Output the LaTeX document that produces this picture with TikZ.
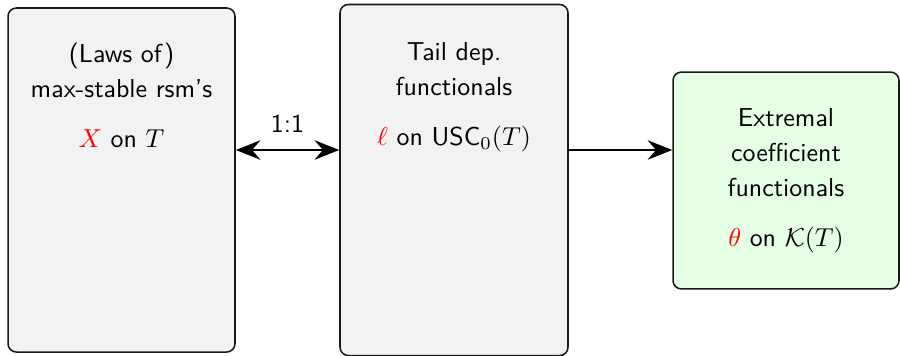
\documentclass[tikz,border=0pt]{standalone}
\usetikzlibrary{arrows.meta}
\begin{document}
\begin{tikzpicture}[x=0.386pt, y=-0.386pt,
  box/.style={draw=black!90, line width=0.6pt, rounded corners=3.2pt, fill=black!5},
  resbox/.style={box, fill=green!10},
  txt/.style={align=center, font=\sffamily\fontsize{10}{13.5}\selectfont, inner sep=0pt, anchor=north},
  tip/.tip={Stealth[length=9.5pt, width=7.5pt, inset=3.2pt]},
  conn/.style={line width=0.8pt},
]
\useasboundingbox (0,0) rectangle (900,355);

% boxes
\node[box, minimum width=87.6pt, minimum height=132.8pt] (laws) at (121.5,180) {};
\node[box, minimum width=88pt, minimum height=135.5pt] (tail) at (454,180) {};
\node[resbox, minimum width=87.2pt, minimum height=83.7pt] (extr) at (786,180.5) {};

% box contents
\node[txt] (lawstxt) at (121.5,43) {(Laws of)\\max-stable rsm's\\[5.8pt]$\color{red}X$ on $T$};
\node[txt] (tailtxt) at (454,42) {Tail dep.\\functionals\\[5.8pt]$\color{red}\ell$ on USC$_0(T)$};
\node[txt] (extrtxt) at (786,108) {Extremal\\coefficient\\functionals\\[5.8pt]$\color{red}\theta$ on $\mathcal{K}(T)$};

% connectors
\coordinate (lvl) at (0,150);
\draw[conn, tip-tip] (laws.east |- lvl) -- node[above=3.2pt, font=\sffamily] (ratio) {1:1} (tail.west |- lvl);
\draw[conn, -tip] (tail.east |- lvl) -- (extr.west |- lvl);
\end{tikzpicture}
\end{document}
